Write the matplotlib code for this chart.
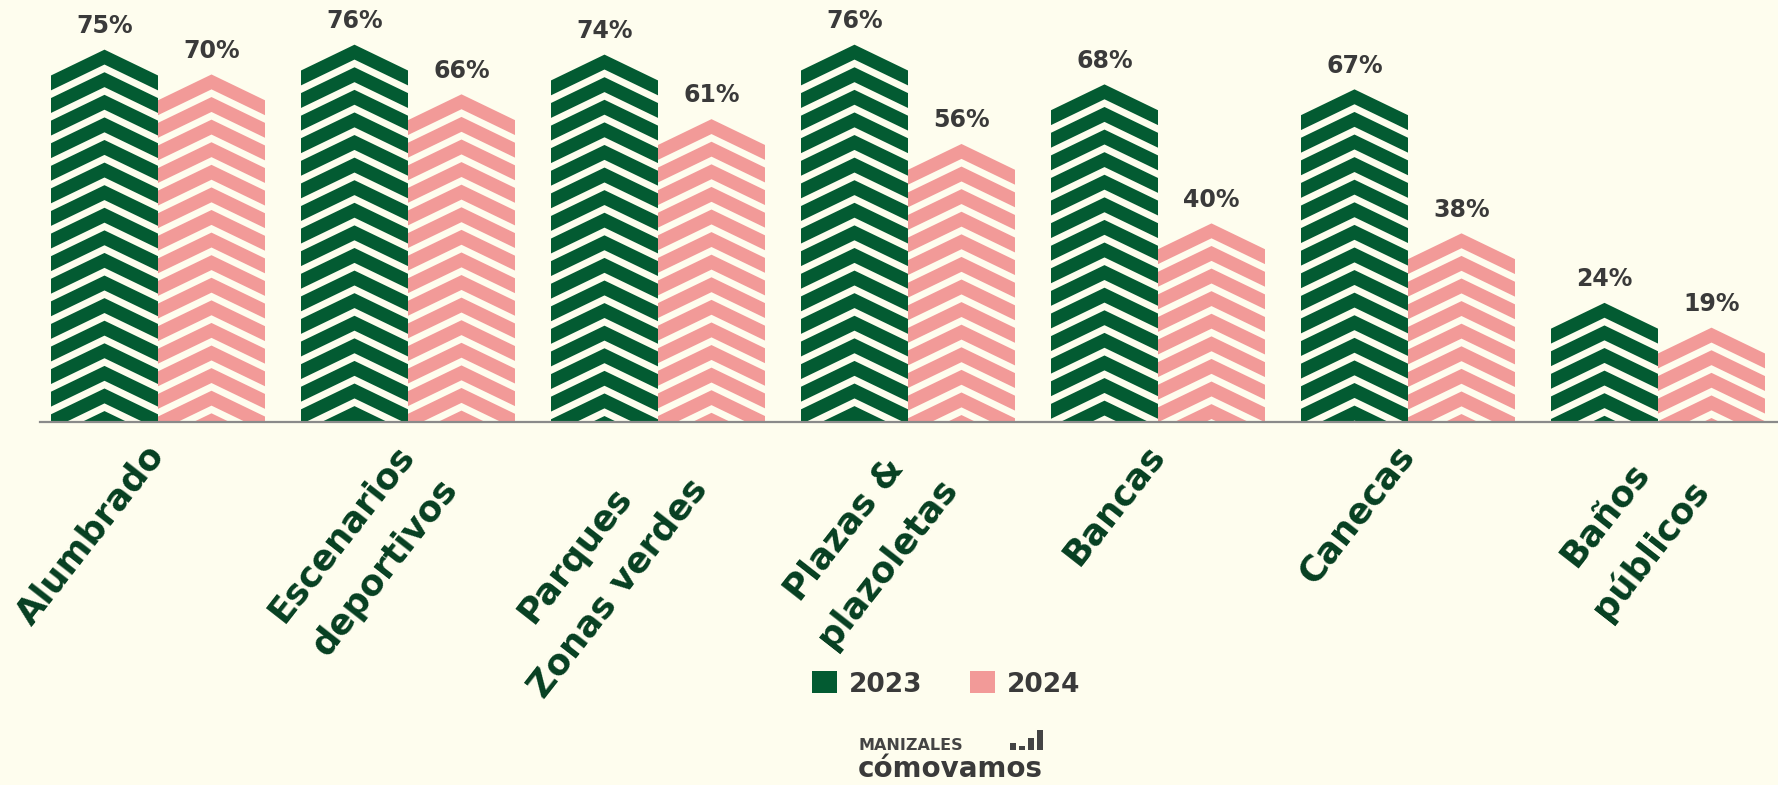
import matplotlib.pyplot as plt
from matplotlib.patches import Polygon, Patch, Rectangle

categories = ['Alumbrado', 'Escenarios\ndeportivos', 'Parques\nZonas verdes',
              'Plazas &\nplazoletas', 'Bancas', 'Canecas', 'Baños\npúblicos']
years = ['2023', '2024']
values_2023 = [75, 76, 74, 76, 68, 67, 24]
values_2024 = [70, 66, 61, 56, 40, 38, 19]

green = '#035b32'
pink = '#f29a98'
bg = '#fefdee'
label_green = '#063f21'
text_gray = '#3a3a3a'

W, H = 1778, 785
fig = plt.figure(figsize=(W / 100, H / 100), dpi=100, facecolor=bg)
ax = fig.add_axes([40 / W, 363 / H, 1738 / W, 422 / H])
ax.set_facecolor(bg)
ax.set_xlim(-0.472, 6.48)
ax.set_ylim(0, 85)

bar_w = 0.428
roof = 5.2      # rise of the pointed top (in % units)
period = 4.55   # chevron repeat
band = 3.0      # coloured band thickness


def chevron_bar(xl, value, color):
    xr = xl + bar_w
    xc = xl + bar_w / 2
    a = value
    while a > 0:
        pts = [(xl, a - roof), (xc, a), (xr, a - roof),
               (xr, a - roof - band), (xc, a - band), (xl, a - roof - band)]
        ax.add_patch(Polygon(pts, closed=True, facecolor=color,
                             edgecolor='none', linewidth=0))
        a -= period


for i, (v1, v2) in enumerate(zip(values_2023, values_2024)):
    for xl, v, col in [(i - bar_w, v1, green), (i, v2, pink)]:
        chevron_bar(xl, v, col)
        ax.annotate(f'{v}%', xy=(xl + bar_w / 2, v), xytext=(0, 12),
                    textcoords='offset points', ha='center', va='baseline',
                    fontsize=17, fontweight='bold', color=text_gray)
    ax.annotate(categories[i], xy=(i, 0), xytext=(-10, -12),
                textcoords='offset points', rotation=52, rotation_mode='anchor',
                ha='right', va='top', multialignment='center', linespacing=1.75,
                fontsize=25.5, fontweight='bold', color=label_green,
                annotation_clip=False)

for sp in ['top', 'left', 'right']:
    ax.spines[sp].set_visible(False)
ax.spines['bottom'].set_color('#8a8a8a')
ax.spines['bottom'].set_linewidth(1.6)
ax.set_xticks([])
ax.set_yticks([])

handles = [Patch(facecolor=green, label=years[0]), Patch(facecolor=pink, label=years[1])]
fig.legend(handles=handles, loc='center', bbox_to_anchor=(0.532, 0.128), ncol=2,
           frameon=False, prop={'weight': 'bold', 'size': 19}, labelcolor=text_gray,
           handlelength=0.95, handleheight=0.9, handletextpad=0.45, columnspacing=1.8)

# logo
fig.text(859 / W, 1 - 750 / H, 'MANIZALES', fontsize=11.5, fontweight='bold', color='#444444')
logo_bars = [0.35, 0.2, 0.6, 1.0]
for k, hb in enumerate(logo_bars):
    fig.add_artist(Rectangle(((1010 + k * 9) / W, 1 - 750 / H), 6 / W, hb * 20 / H,
                             transform=fig.transFigure, facecolor='#444444',
                             edgecolor='none'))
fig.text(950 / W, 1 - 777 / H, 'cómovamos', fontsize=20, fontweight='bold',
         color='#3a3a3a', ha='center')

fig.savefig('out.png', dpi=100, facecolor=bg)
